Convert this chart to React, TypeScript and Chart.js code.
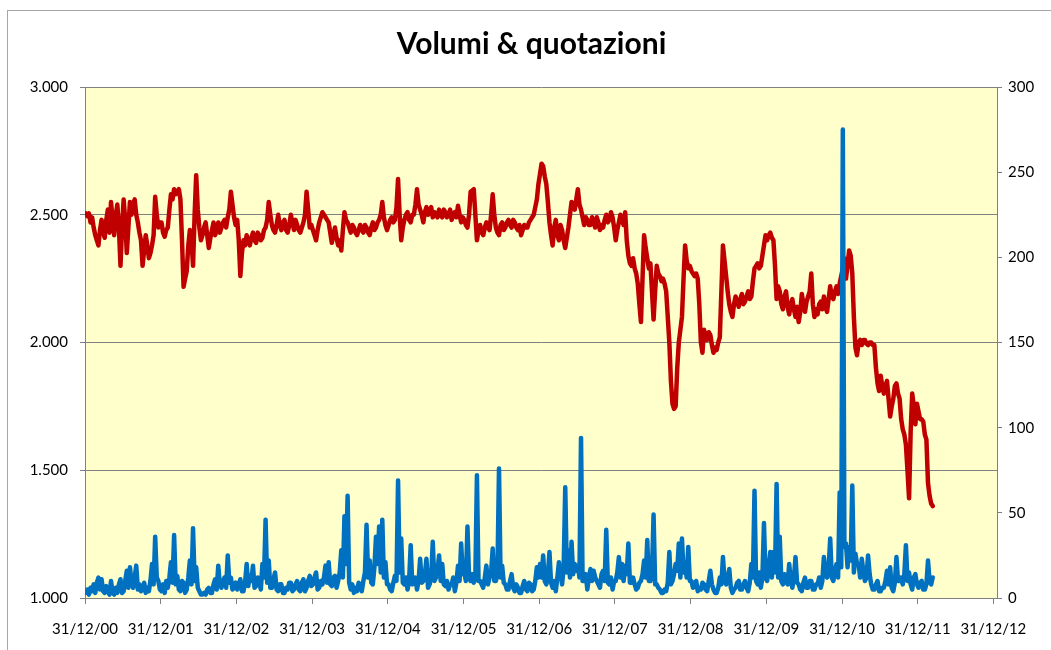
import React, { useEffect, useRef } from 'react';
import { Chart, registerables } from 'chart.js';

Chart.register(...registerables);

const TITLE = 'Volumi & quotazioni';

// x axis: one tick per 31/12 of each year (value = decimal year)
const TICK_YEARS = [2001, 2002, 2003, 2004, 2005, 2006, 2007, 2008, 2009, 2010, 2011, 2012, 2013];
const TICK_LABELS = [
  '31/12/00', '31/12/01', '31/12/02', '31/12/03', '31/12/04', '31/12/05', '31/12/06',
  '31/12/07', '31/12/08', '31/12/09', '31/12/10', '31/12/11', '31/12/12',
];

// sampling of both series: weekly (48 samples per year)
const SAMPLES_PER_YEAR = 48;
const DATA_YEARS = [2001, 2002, 2003, 2004, 2005, 2006, 2007, 2008, 2009, 2010, 2011, 2012];

// Quotazioni (left axis)
const PRICE_2001 = [2505, 2495, 2505, 2470, 2490, 2450, 2420, 2400, 2380, 2440, 2480, 2430, 2410, 2480, 2520, 2430, 2550, 2480, 2420, 2500, 2540, 2450, 2300, 2450, 2560, 2480, 2350, 2450, 2550, 2500, 2540, 2560, 2500, 2470, 2430, 2400, 2300, 2360, 2420, 2380, 2330, 2350, 2380, 2420, 2570, 2500, 2450, 2470];
const PRICE_2002 = [2470, 2430, 2414, 2440, 2450, 2520, 2580, 2560, 2600, 2580, 2590, 2600, 2560, 2400, 2218, 2250, 2280, 2380, 2440, 2400, 2300, 2500, 2655, 2520, 2450, 2400, 2420, 2450, 2470, 2420, 2370, 2410, 2440, 2470, 2420, 2440, 2470, 2430, 2450, 2470, 2480, 2450, 2490, 2520, 2590, 2540, 2490, 2460];
const PRICE_2003 = [2480, 2400, 2260, 2350, 2400, 2380, 2420, 2400, 2380, 2410, 2430, 2400, 2390, 2430, 2420, 2400, 2410, 2440, 2450, 2480, 2550, 2500, 2460, 2440, 2430, 2460, 2500, 2460, 2440, 2470, 2480, 2440, 2430, 2460, 2500, 2470, 2440, 2480, 2460, 2440, 2430, 2450, 2470, 2500, 2590, 2520, 2450, 2460];
const PRICE_2004 = [2440, 2420, 2400, 2440, 2470, 2490, 2510, 2500, 2490, 2480, 2470, 2430, 2390, 2420, 2450, 2410, 2380, 2400, 2360, 2440, 2510, 2480, 2470, 2450, 2430, 2460, 2450, 2430, 2420, 2440, 2460, 2440, 2430, 2460, 2450, 2430, 2420, 2450, 2470, 2440, 2450, 2470, 2480, 2500, 2550, 2490, 2460, 2440];
const PRICE_2005 = [2460, 2480, 2490, 2470, 2480, 2530, 2640, 2500, 2400, 2450, 2480, 2500, 2510, 2480, 2470, 2500, 2500, 2540, 2600, 2540, 2520, 2500, 2470, 2510, 2530, 2500, 2510, 2530, 2490, 2510, 2500, 2490, 2520, 2500, 2490, 2520, 2510, 2490, 2500, 2520, 2480, 2500, 2510, 2490, 2535, 2500, 2470, 2490];
const PRICE_2006 = [2480, 2460, 2450, 2500, 2590, 2595, 2600, 2500, 2400, 2440, 2460, 2430, 2420, 2450, 2470, 2450, 2440, 2500, 2580, 2500, 2450, 2430, 2420, 2460, 2470, 2440, 2450, 2470, 2480, 2460, 2450, 2480, 2470, 2450, 2440, 2460, 2420, 2440, 2460, 2450, 2450, 2470, 2480, 2490, 2500, 2530, 2560, 2620];
const PRICE_2007 = [2660, 2700, 2690, 2650, 2620, 2550, 2470, 2420, 2380, 2450, 2480, 2420, 2400, 2460, 2440, 2400, 2370, 2410, 2450, 2500, 2550, 2530, 2520, 2560, 2600, 2540, 2520, 2490, 2460, 2490, 2480, 2460, 2460, 2490, 2470, 2450, 2490, 2470, 2440, 2460, 2450, 2480, 2500, 2470, 2480, 2510, 2490, 2450];
const PRICE_2008 = [2400, 2440, 2470, 2500, 2480, 2460, 2510, 2400, 2340, 2310, 2300, 2330, 2290, 2270, 2230, 2150, 2080, 2250, 2420, 2370, 2330, 2290, 2310, 2200, 2090, 2200, 2300, 2270, 2260, 2240, 2250, 2230, 2200, 2100, 2000, 1850, 1760, 1740, 1750, 1900, 2000, 2050, 2100, 2250, 2380, 2320, 2290, 2300];
const PRICE_2009 = [2280, 2270, 2260, 2270, 2250, 2150, 2000, 1960, 2050, 2020, 2010, 2040, 2030, 1990, 1960, 1980, 1970, 2000, 2020, 2200, 2380, 2320, 2260, 2200, 2150, 2120, 2100, 2150, 2180, 2160, 2140, 2170, 2190, 2150, 2160, 2180, 2200, 2170, 2180, 2240, 2290, 2300, 2310, 2290, 2300, 2340, 2380, 2420];
const PRICE_2010 = [2400, 2420, 2430, 2410, 2400, 2300, 2170, 2220, 2200, 2150, 2130, 2180, 2200, 2140, 2110, 2150, 2170, 2130, 2100, 2140, 2080, 2120, 2190, 2150, 2120, 2160, 2180, 2200, 2270, 2150, 2100, 2130, 2110, 2150, 2160, 2130, 2180, 2140, 2120, 2170, 2220, 2180, 2170, 2200, 2220, 2190, 2230, 2260];
const PRICE_2011 = [2290, 2330, 2250, 2300, 2360, 2340, 2270, 2100, 1980, 1950, 2000, 2010, 1990, 2010, 2010, 1995, 1990, 2000, 2000, 1990, 1990, 1900, 1840, 1810, 1870, 1830, 1800, 1830, 1850, 1780, 1710, 1750, 1780, 1830, 1840, 1800, 1780, 1700, 1660, 1640, 1600, 1500, 1390, 1650, 1800, 1750, 1680, 1760];
const PRICE_2012 = [1730, 1700, 1700, 1690, 1640, 1620, 1450, 1400, 1370, 1360];

// Volumi (right axis)
const VOLUME_2001 = [3, 5, 2, 6, 4, 8, 3, 9, 12, 5, 11, 4, 3, 7, 4, 2, 10, 3, 2, 6, 3, 8, 11, 3, 4, 10, 16, 6, 18, 9, 6, 12, 19, 5, 8, 4, 5, 9, 3, 6, 4, 10, 20, 8, 36, 12, 10, 5];
const VOLUME_2002 = [4, 8, 3, 10, 6, 12, 21, 9, 37, 8, 13, 5, 4, 10, 9, 3, 5, 12, 22, 8, 41, 10, 18, 6, 4, 2, 2, 3, 2, 5, 6, 3, 3, 8, 11, 5, 19, 8, 6, 10, 12, 6, 25, 9, 12, 5, 6, 9];
const VOLUME_2003 = [5, 8, 11, 4, 4, 9, 20, 7, 13, 10, 19, 6, 7, 12, 9, 5, 20, 12, 46, 9, 22, 6, 6, 11, 15, 5, 4, 8, 8, 3, 3, 6, 5, 9, 9, 4, 5, 8, 10, 5, 4, 9, 11, 4, 6, 10, 13, 7];
const VOLUME_2004 = [8, 12, 15, 5, 6, 10, 8, 12, 19, 9, 21, 8, 7, 12, 13, 6, 10, 15, 28, 12, 48, 20, 60, 9, 5, 8, 3, 6, 4, 9, 6, 4, 10, 15, 43, 12, 22, 9, 8, 18, 36, 20, 42, 15, 46, 12, 21, 8];
const VOLUME_2005 = [8, 5, 4, 9, 13, 10, 69, 15, 35, 9, 8, 12, 5, 10, 31, 8, 9, 12, 5, 10, 23, 9, 10, 14, 23, 6, 8, 12, 33, 10, 12, 16, 25, 10, 20, 8, 7, 10, 5, 8, 8, 12, 4, 9, 19, 10, 32, 14];
const VOLUME_2006 = [15, 10, 42, 12, 10, 14, 9, 12, 72, 10, 10, 8, 6, 12, 19, 8, 12, 15, 29, 10, 10, 14, 76, 12, 19, 9, 8, 5, 5, 10, 14, 6, 4, 8, 6, 3, 3, 7, 10, 5, 4, 9, 8, 4, 5, 10, 18, 12];
const VOLUME_2007 = [20, 12, 25, 10, 8, 14, 27, 9, 6, 10, 4, 12, 21, 15, 8, 18, 65, 15, 28, 12, 33, 14, 20, 16, 19, 12, 94, 10, 10, 14, 5, 12, 17, 10, 16, 12, 10, 8, 6, 14, 16, 10, 40, 9, 8, 12, 5, 10];
const VOLUME_2008 = [10, 15, 24, 12, 20, 10, 19, 14, 32, 9, 9, 12, 8, 5, 6, 9, 10, 14, 22, 12, 34, 10, 10, 15, 49, 8, 8, 6, 5, 3, 3, 5, 4, 9, 27, 8, 10, 14, 20, 16, 32, 12, 35, 15, 20, 12, 30, 10];
const VOLUME_2009 = [10, 6, 7, 10, 4, 6, 5, 9, 8, 5, 4, 10, 16, 8, 5, 3, 3, 6, 12, 8, 24, 10, 8, 12, 17, 6, 3, 5, 6, 9, 10, 5, 5, 8, 10, 6, 4, 9, 20, 12, 63, 10, 8, 15, 6, 12, 44, 12];
const VOLUME_2010 = [10, 18, 27, 12, 27, 15, 67, 12, 36, 10, 8, 14, 10, 8, 20, 10, 6, 12, 24, 9, 8, 5, 4, 9, 12, 6, 6, 10, 10, 5, 5, 8, 8, 12, 6, 10, 24, 14, 12, 18, 35, 12, 10, 16, 20, 12, 62, 18];
const VOLUME_2011 = [275, 30, 32, 18, 30, 22, 66, 15, 26, 20, 20, 12, 23, 16, 10, 12, 25, 14, 8, 5, 5, 8, 10, 4, 4, 6, 6, 10, 16, 8, 18, 6, 4, 9, 24, 10, 10, 12, 8, 14, 31, 10, 15, 8, 5, 12, 14, 8];
const VOLUME_2012 = [6, 9, 10, 5, 5, 8, 22, 10, 8, 12];

const PRICE_BY_YEAR = [PRICE_2001, PRICE_2002, PRICE_2003, PRICE_2004, PRICE_2005, PRICE_2006, PRICE_2007, PRICE_2008, PRICE_2009, PRICE_2010, PRICE_2011, PRICE_2012];
const VOLUME_BY_YEAR = [VOLUME_2001, VOLUME_2002, VOLUME_2003, VOLUME_2004, VOLUME_2005, VOLUME_2006, VOLUME_2007, VOLUME_2008, VOLUME_2009, VOLUME_2010, VOLUME_2011, VOLUME_2012];

function toPoints(years: number[], arrays: number[][]) {
  const pts: { x: number; y: number }[] = [];
  arrays.forEach((arr, k) => {
    arr.forEach((v, i) => {
      pts.push({ x: years[k] + (i + 0.5) / SAMPLES_PER_YEAR, y: v });
    });
  });
  return pts;
}

function itNumber(v: number) {
  const n = Math.round(v);
  if (n < 1000) return String(n);
  const th = Math.floor(n / 1000);
  const rest = String(n % 1000).padStart(3, '0');
  return th + '.' + rest;
}

const plotBackground = {
  id: 'plotBackground',
  beforeDraw(chart: any) {
    const { ctx, chartArea } = chart;
    if (!chartArea) return;
    ctx.save();
    ctx.fillStyle = '#FFFFCC';
    ctx.fillRect(chartArea.left, chartArea.top, chartArea.right - chartArea.left, chartArea.bottom - chartArea.top);
    ctx.restore();
  },
};

export default function App() {
  const canvasRef = useRef<HTMLCanvasElement | null>(null);

  useEffect(() => {
    document.body.style.margin = '0';
    document.documentElement.style.overflow = 'hidden';
    const canvas = canvasRef.current;
    if (!canvas) return;
    const font = { family: 'Lato', size: 15 };
    const chart = new Chart(canvas, {
      type: 'line',
      data: {
        datasets: [
          {
            label: 'Volumi',
            data: toPoints(DATA_YEARS, VOLUME_BY_YEAR),
            yAxisID: 'yVol',
            borderColor: '#0070C0',
            backgroundColor: '#0070C0',
            borderWidth: 4.5,
            pointRadius: 0,
            borderJoinStyle: 'round',
            borderCapStyle: 'round',
            tension: 0,
            order: 0,
          },
          {
            label: 'Quotazioni',
            data: toPoints(DATA_YEARS, PRICE_BY_YEAR),
            yAxisID: 'yPrice',
            borderColor: '#C00000',
            backgroundColor: '#C00000',
            borderWidth: 4.5,
            pointRadius: 0,
            borderJoinStyle: 'round',
            borderCapStyle: 'round',
            tension: 0,
            order: 1,
          },
        ],
      },
      options: {
        animation: false,
        responsive: false,
        devicePixelRatio: 1,
        layout: { padding: { left: 12, right: 0, top: 0, bottom: 0 } },
        plugins: {
          legend: { display: false },
          tooltip: { enabled: false },
          title: {
            display: true,
            text: TITLE,
            color: '#000',
            font: { family: 'Lato', size: 30, weight: 'bold' },
            padding: { top: 26, bottom: 25 },
          },
        },
        scales: {
          x: {
            type: 'linear',
            min: 2001,
            max: 2013.047,
            afterBuildTicks: (s: any) => {
              s.ticks = TICK_YEARS.map((v) => ({ value: v }));
            },
            afterFit: (s: any) => {
              s.height = 52;
            },
            ticks: {
              callback: (v: any) => TICK_LABELS[TICK_YEARS.indexOf(Number(v))] ?? '',
              font,
              color: '#000',
              padding: 16,
              maxRotation: 0,
              autoSkip: false,
            },
            grid: { drawOnChartArea: false, color: '#808080', tickLength: 6 },
            border: { color: '#808080' },
          },
          yPrice: {
            type: 'linear',
            position: 'left',
            min: 1000,
            max: 3000,
            afterFit: (s: any) => {
              s.width = 73;
            },
            ticks: {
              stepSize: 500,
              callback: (v: any) => itNumber(Number(v)),
              font,
              color: '#000',
              padding: 12,
            },
            grid: { color: '#808080', tickLength: 5 },
            border: { color: '#808080' },
          },
          yVol: {
            type: 'linear',
            position: 'right',
            min: 0,
            max: 300,
            afterFit: (s: any) => {
              s.width = 54;
            },
            ticks: {
              stepSize: 50,
              callback: (v: any) => String(v),
              font,
              color: '#000',
              padding: 6,
            },
            grid: { drawOnChartArea: false, color: '#808080', tickLength: 5 },
            border: { color: '#808080' },
          },
        },
      },
      plugins: [plotBackground],
    } as any);
    return () => {
      chart.destroy();
    };
  }, []);

  return (
    <div style={{ position: 'relative', width: 1051, height: 650, overflow: 'hidden', background: '#fff' }}>
      <div
        style={{
          position: 'absolute',
          left: 7,
          top: 10,
          width: 2000,
          height: 2000,
          borderLeft: '1px solid #a6a6a6',
          borderTop: '1px solid #a6a6a6',
        }}
      />
      <canvas ref={canvasRef} width={1051} height={650} style={{ position: 'absolute', left: 0, top: 0 }} />
    </div>
  );
}
